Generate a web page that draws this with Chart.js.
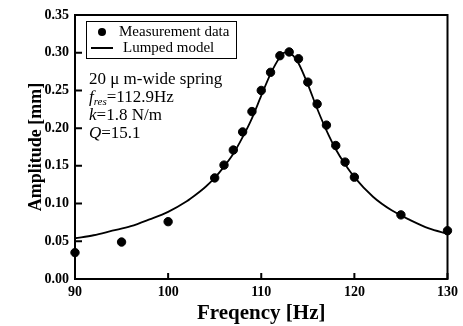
<!DOCTYPE html>
<html>
<head>
<meta charset="utf-8">
<script src="https://cdn.jsdelivr.net/npm/chart.js@4.4.1/dist/chart.umd.min.js"></script>
<style>
  html, body { margin: 0; padding: 0; background: #fff; }
  #wrap { width: 463px; height: 326px; }
</style>
</head>
<body>
<div id="wrap"><canvas id="freqChart" width="463" height="326"></canvas></div>
<script>
// measured points
const measFreq = [90, 95, 100, 105, 106, 107, 108, 109, 110, 111, 112, 113, 114, 115, 116, 117, 118, 119, 120, 125, 130];
const measAmp = [0.035, 0.049, 0.076, 0.134, 0.151, 0.171, 0.195, 0.222, 0.250, 0.274, 0.296, 0.301, 0.292, 0.261, 0.232, 0.204, 0.177, 0.155, 0.135, 0.085, 0.064];

// lumped model curve
const modelFreq = [90, 92, 94, 96, 98, 100, 102, 103, 104, 105, 106, 107, 108, 109, 110, 111, 112, 112.5, 113, 113.5, 114, 115, 116, 117, 118, 119, 120, 122, 124, 126, 128, 130];
const modelAmp = [0.054, 0.058, 0.064, 0.070, 0.079, 0.089, 0.103, 0.112, 0.122, 0.134, 0.149, 0.166, 0.188, 0.213, 0.243, 0.272, 0.294, 0.300, 0.300, 0.295, 0.286, 0.258, 0.226, 0.197, 0.172, 0.152, 0.135, 0.109, 0.091, 0.078, 0.067, 0.060];

const xTicks = [90, 100, 110, 120, 130];
const yTicks = [0.00, 0.05, 0.10, 0.15, 0.20, 0.25, 0.30, 0.35];

const seriesNames = ["Measurement data", "Lumped model"];
const noteLines = ["20 \u03bc m-wide spring", "112.9Hz", "1.8 N/m", "15.1"];

const SERIF = "'Liberation Serif', 'Times New Roman', serif";

// box + inward ticks, legend and the text note
const framePlugin = {
    id: "frame",
    afterDraw(chart) {
        const ctx = chart.ctx;
        const area = chart.chartArea;
        const xs = chart.scales.x;
        const ys = chart.scales.y;

        ctx.save();
        ctx.strokeStyle = "#000";
        ctx.lineWidth = 2;
        ctx.strokeRect(area.left, area.top, area.right - area.left, area.bottom - area.top);

        ctx.beginPath();
        xTicks.forEach((v) => {
            const px = xs.getPixelForValue(v);
            ctx.moveTo(px, area.bottom);
            ctx.lineTo(px, area.bottom - 6);
        });
        yTicks.forEach((v) => {
            const py = ys.getPixelForValue(v);
            ctx.moveTo(area.left, py);
            ctx.lineTo(area.left + 7, py);
        });
        ctx.stroke();

        // legend
        ctx.lineWidth = 1;
        ctx.strokeRect(86.5, 21.5, 150, 37);
        ctx.fillStyle = "#000";
        ctx.beginPath();
        ctx.arc(102, 32, 4, 0, Math.PI * 2);
        ctx.fill();
        ctx.lineWidth = 2;
        ctx.beginPath();
        ctx.moveTo(91, 48);
        ctx.lineTo(113, 48);
        ctx.stroke();

        ctx.font = "15px " + SERIF;
        ctx.textBaseline = "middle";
        ctx.textAlign = "left";
        ctx.fillText(seriesNames[0], 119, 32);
        ctx.fillText(seriesNames[1], 123, 48);

        // note
        const x0 = 89;
        ctx.font = "17px " + SERIF;
        ctx.fillText(noteLines[0], x0, 80);

        ctx.font = "italic 17px " + SERIF;
        ctx.fillText("f", x0, 98);
        let w = ctx.measureText("f").width;
        ctx.font = "italic 11px " + SERIF;
        ctx.fillText("res", x0 + w, 102);
        w += ctx.measureText("res").width;
        ctx.font = "17px " + SERIF;
        ctx.fillText("=" + noteLines[1], x0 + w, 98);

        ctx.font = "italic 17px " + SERIF;
        ctx.fillText("k", x0, 116);
        w = ctx.measureText("k").width;
        ctx.font = "17px " + SERIF;
        ctx.fillText("=" + noteLines[2], x0 + w, 116);

        ctx.font = "italic 17px " + SERIF;
        ctx.fillText("Q", x0, 134);
        w = ctx.measureText("Q").width;
        ctx.font = "17px " + SERIF;
        ctx.fillText("=" + noteLines[3], x0 + w, 134);

        ctx.restore();
    }
};

const ctx = document.getElementById("freqChart").getContext("2d");
new Chart(ctx, {
    type: "scatter",
    data: {
        datasets: [{
            label: seriesNames[0],
            data: measFreq.map((f, i) => ({ x: f, y: measAmp[i] })),
            backgroundColor: "#000",
            borderColor: "#000",
            pointRadius: 4.2,
            pointHoverRadius: 4.2,
            clip: false
        }, {
            label: seriesNames[1],
            type: "line",
            data: modelFreq.map((f, i) => ({ x: f, y: modelAmp[i] })),
            borderColor: "#000",
            borderWidth: 1.8,
            pointRadius: 0,
            fill: false,
            cubicInterpolationMode: "monotone"
        }]
    },
    options: {
        responsive: false,
        animation: false,
        devicePixelRatio: 1,
        layout: { padding: { top: 15, right: 15, left: 0, bottom: 0 } },
        plugins: {
            legend: { display: false },
            tooltip: { enabled: false }
        },
        scales: {
            x: {
                type: "linear",
                min: 90,
                max: 130,
                afterBuildTicks: (scale) => { scale.ticks = xTicks.map((v) => ({ value: v })); },
                afterFit: (scale) => { scale.height = 47; },
                grid: { display: false, drawTicks: false },
                border: { display: false },
                ticks: {
                    padding: 5,
                    color: "#000",
                    font: { family: SERIF, size: 14, weight: "bold" }
                },
                title: {
                    display: true,
                    text: "Freqency [Hz]",
                    color: "#000",
                    font: { family: SERIF, size: 21, weight: "bold", lineHeight: 1 },
                    padding: { top: 0, bottom: 2 }
                }
            },
            y: {
                min: 0,
                max: 0.35,
                afterBuildTicks: (scale) => { scale.ticks = yTicks.map((v) => ({ value: v })); },
                afterFit: (scale) => { scale.width = 75; },
                grid: { display: false, drawTicks: false },
                border: { display: false },
                ticks: {
                    padding: 6,
                    color: "#000",
                    font: { family: SERIF, size: 14, weight: "bold" },
                    callback: (v) => Number(v).toFixed(2)
                },
                title: {
                    display: true,
                    text: "Amplitude [mm]",
                    color: "#000",
                    font: { family: SERIF, size: 18, weight: "bold", lineHeight: 1 },
                    padding: { top: 27, bottom: 0 }
                }
            }
        }
    },
    plugins: [framePlugin]
});
</script>
</body>
</html>
